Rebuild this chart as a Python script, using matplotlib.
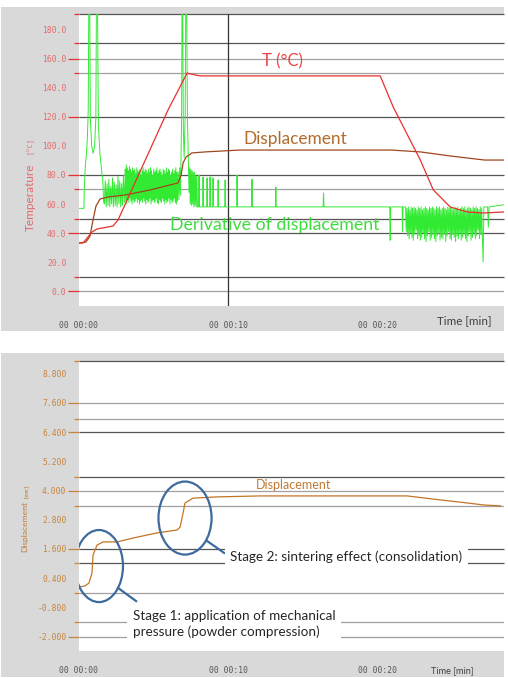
import numpy as np
import matplotlib.pyplot as plt
from matplotlib.patches import Ellipse, Rectangle
from matplotlib import rc
rc('font', family='Lato')

# ---- axes / labels
time_ticks = [0, 10, 20]
time_labels = ['00 00:00', '00 00:10', '00 00:20']
temp_ticks = [0, 20, 40, 60, 80, 100, 120, 140, 160, 180]
temp_labels = ['0.0', '20.0', '40.0', '60.0', '80.0', '100.0', '120.0', '140.0', '160.0', '180.0']
disp_ticks = [-2.0, -0.8, 0.4, 1.6, 2.8, 4.0, 5.2, 6.4, 7.6, 8.8]
disp_labels = ['-2.000', '-0.800', '0.400', '1.600', '2.800', '4.000', '5.200', '6.400', '7.600', '8.800']

# software grid lines (top panel, deg C)
temp_grid_dark = [171, 120, 80, 50, 40, 10]
temp_grid_light = [160, 150, 70, 0]
temp_mark_long = [160, 120, 80, 40, 0]
temp_mark_short = [191, 171, 150, 70, 50, 10]
# software grid lines (bottom panel, mm)
disp_grid_dark = [6.4, 4.56, 1.6, 1.02]
disp_grid_light = [7.6, 6.94, 4.0, 3.37, -0.21, -1.4, -2.0]
disp_mark_long = [7.6, 6.4, 4.0, 1.6, -2.0]
disp_mark_short = [9.32, 6.94, 4.56, 3.37, 1.02, -0.21, -1.4]

# ---- temperature T (deg C)
temp_t = [0.0, 0.27, 0.87, 1.21, 2.28, 2.62, 5.97, 7.25, 7.45, 8.12, 20.20, 21.07,
          22.89, 23.76, 24.90, 26.04, 27.10, 28.50]
temp_v = [33.1, 33.1, 40.7, 42.8, 44.8, 49.0, 124.8, 150.3, 149.7, 148.3, 148.3, 126.9,
          90.3, 69.7, 57.9, 54.5, 53.8, 54.5]

# ---- displacement drawn on the temperature scale (top panel)
disp_top_t = [0.0, 0.47, 0.74, 0.94, 1.14, 1.41, 1.95, 3.09, 4.77, 6.64, 6.85, 6.98, 7.18,
              7.58, 8.46, 10.8, 20.9, 22.9, 24.9, 27.2, 28.5]
disp_top_v = [33.1, 33.8, 37.9, 49.0, 58.6, 63.4, 64.8, 66.2, 69.7, 74.5, 80.0, 88.3, 92.4,
              95.2, 95.9, 97.2, 97.2, 95.9, 93.1, 90.3, 90.3]

# ---- derivative of displacement (top panel)
deriv_base = 58
deriv_start_t = [0.00, 0.33, 0.36, 0.42, 0.50, 0.56, 0.62, 0.66, 0.72, 0.76, 0.85, 0.95,
                 1.05, 1.13, 1.17, 1.24, 1.30, 1.40, 1.50, 1.60, 1.65]
deriv_start_v = [57, 57, 72, 85, 95, 105, 125, 200, 200, 120, 100, 95,
                 100, 120, 200, 200, 115, 95, 85, 75, 62]
deriv_burst_span = (1.70, 3.10)
deriv_burst = [60, 76, 58, 74, 59, 77, 58, 72, 60, 78, 58, 75,
               59, 73, 58, 79, 60, 76, 58, 74, 59, 80, 61, 78]
deriv_band_span = (3.10, 6.60)
deriv_band_hi = [84, 87, 85, 83, 86, 84, 82, 85, 83, 84, 81, 85, 83, 82, 84, 80, 83, 85, 82, 84,
                 83, 81, 84, 82, 85, 83, 80, 84, 82, 83, 85, 81, 83, 84, 82, 80, 84, 83, 81, 85,
                 82, 84, 83, 80, 82, 84, 81, 83, 85, 82]
deriv_band_lo = [62, 60, 63, 61, 64, 62, 60, 63, 61, 62, 64, 61, 63, 60, 62, 63, 61, 64, 62, 60,
                 63, 61, 62, 64, 60, 62, 63, 61, 62, 64, 61, 60, 63, 62, 61, 64, 62, 60, 63, 61,
                 62, 64, 60, 63, 61, 62, 64, 61, 60, 62]
deriv_spike_t = [6.65, 6.70, 6.75, 6.80, 6.84, 6.88, 6.91, 6.95, 7.00, 7.05, 7.12, 7.16, 7.22,
                 7.27, 7.32, 7.38, 7.42, 7.46, 7.50, 7.54, 7.58, 7.62, 7.66, 7.70, 7.74, 7.78,
                 7.82, 7.86, 7.90, 7.95]
deriv_spike_v = [82, 63, 85, 66, 90, 120, 200, 200, 110, 92, 120, 200, 200,
                 120, 95, 68, 85, 60, 84, 59, 83, 60, 82, 58, 82, 59,
                 80, 58, 79, 58]
deriv_peak_t = [8.05, 8.32, 8.59, 8.79, 8.99, 9.33, 9.80, 10.6, 11.6, 13.2, 16.4]
deriv_peak_v = [80, 78.6, 78, 78.6, 78, 76.6, 76.6, 80, 77, 71.7, 67.6]
deriv_dip_t = [20.87, 21.70]
deriv_dip_v = [35, 41]
deriv_band2_span = (21.90, 27.05)
deriv_band2_hi = [58, 57, 58, 56, 58, 57, 58, 57, 56, 58, 57, 58, 56, 57, 58, 57, 56, 58, 57, 58,
                  57, 56, 58, 57, 58, 56, 57, 58, 57, 56, 58, 57, 58, 57, 56, 58, 57, 58, 56, 57,
                  58, 57, 58, 56, 57, 58, 57, 56, 58, 57, 58, 57, 56, 58, 57]
deriv_band2_lo = [41, 38, 36, 40, 37, 35, 39, 42, 36, 38, 35, 37, 40, 36, 34, 38, 41, 35, 37, 39,
                  36, 34, 38, 40, 35, 37, 36, 39, 34, 38, 41, 36, 35, 39, 37, 34, 38, 36, 40, 35,
                  37, 39, 36, 34, 38, 41, 35, 37, 40, 36, 38, 42, 36, 39, 37]
deriv_end_t = [27.10, 27.15, 27.40, 27.45, 27.50, 28.50]
deriv_end_v = [20, 58, 58, 44, 58, 59.5]

# ---- displacement (bottom panel, mm)
disp_t = [0.0, 0.40, 0.67, 0.87, 0.94, 1.21, 1.61, 2.55, 3.62, 5.23, 6.58, 6.78, 6.98, 7.11,
          7.65, 9.26, 12.15, 22.01, 23.76, 26.04, 27.11, 28.26]
disp_v = [0.04, 0.08, 0.20, 0.61, 1.35, 1.76, 1.89, 1.89, 2.05, 2.26, 2.38, 2.50, 3.08, 3.49,
          3.69, 3.74, 3.78, 3.78, 3.65, 3.49, 3.41, 3.37]

# build derivative trace
dt, dv = list(deriv_start_t), list(deriv_start_v)
dt += list(np.linspace(*deriv_burst_span, len(deriv_burst))); dv += deriv_burst
band = [v for pair in zip(deriv_band_hi, deriv_band_lo) for v in pair]
dt += list(np.linspace(*deriv_band_span, len(band))); dv += band
dt += deriv_spike_t; dv += deriv_spike_v
for t, v in zip(deriv_peak_t + deriv_dip_t, deriv_peak_v + deriv_dip_v):
    dt += [t - 0.03, t, t + 0.03]; dv += [deriv_base, v, deriv_base]
band2 = [v for pair in zip(deriv_band2_hi, deriv_band2_lo) for v in pair]
dt += list(np.linspace(*deriv_band2_span, len(band2))); dv += band2
dt += deriv_end_t; dv += deriv_end_v

gray = '#d9d9d9'
red = '#e83030'
red_lbl = '#e46a6a'
green = '#33ea33'
brown = '#a0461e'
orange = '#c27526'
dark = '#555555'
light = '#a0a0a0'
mono = 'DejaVu Sans Mono'

fig = plt.figure(figsize=(5.08, 6.78), dpi=100)
fig.patches.append(Rectangle((0.002, 0.5118), 0.990, 0.478, transform=fig.transFigure,
                             facecolor=gray, edgecolor='none', zorder=-1))
fig.patches.append(Rectangle((0.002, 0.0015), 0.990, 0.478, transform=fig.transFigure,
                             facecolor=gray, edgecolor='none', zorder=-1))

ax1 = fig.add_axes([0.1555, 0.5487, 0.8366, 0.4307])
ax2 = fig.add_axes([0.1555, 0.0398, 0.8366, 0.4277])


def frame(ax, ylim, ticks, labels, lcolor, gdark, glight, mlong, mshort, mcolor):
    ax.set_xlim(0, 28.5)
    ax.set_ylim(*ylim)
    for s in ['left', 'right', 'bottom', 'top']:
        ax.spines[s].set_visible(False)
    ax.set_yticks(ticks)
    ax.set_yticklabels(labels, family=mono, fontsize=5.8, color=lcolor)
    ax.set_xticks(time_ticks)
    ax.set_xticklabels(time_labels, family=mono, fontsize=5.8, color='#555555')
    ax.tick_params(axis='y', length=0, pad=9)
    ax.tick_params(axis='x', length=0, pad=11)
    tr = ax.get_yaxis_transform()
    ax.hlines(gdark + [ylim[1]], 0, 1, transform=tr, colors=dark, lw=0.9, zorder=1, clip_on=False)
    ax.hlines(glight, 0, 1, transform=tr, colors=light, lw=0.9, zorder=1)
    ax.hlines(mlong, -0.026, 0, transform=tr, colors=mcolor, lw=0.9, clip_on=False)
    ax.hlines(mshort, -0.012, 0, transform=tr, colors=mcolor, lw=0.9, clip_on=False)


frame(ax1, (-10.3, 191), temp_ticks, temp_labels, red_lbl,
      temp_grid_dark, temp_grid_light, temp_mark_long, temp_mark_short, red)
ax1.axvline(10, color='#333333', lw=0.9, zorder=1)
ax1.plot(dt, dv, color=green, lw=0.7, zorder=2)
ax1.plot(disp_top_t, disp_top_v, color=brown, lw=0.9, zorder=3)
ax1.plot(temp_t, temp_v, color=red, lw=0.9, zorder=4)
ax1.text(12.3, 158, 'T (°C)', color='#ee4444', fontsize=12, va='center', ha='left')
ax1.text(11.0, 105, 'Displacement', color='#b36b2c', fontsize=12.4, va='center', ha='left')
ax1.text(6.1, 45.5, 'Derivative of displacement', color='#3ddd3d', fontsize=12.8,
         va='center', ha='left')

frame(ax2, (-2.59, 9.32), disp_ticks, disp_labels, '#c8843c',
      disp_grid_dark, disp_grid_light, disp_mark_long, disp_mark_short, '#c8843c')
ax2.plot(disp_t, disp_v, color=orange, lw=0.9, zorder=3)
ax2.text(11.85, 4.23, 'Displacement', color='#c07a35', fontsize=9, va='center', ha='left')

ell = '#3e6b9e'
ax2.add_patch(Ellipse((1.34, 0.90), 3.22, 2.96, fill=False, edgecolor=ell, lw=1.6, zorder=4))
ax2.add_patch(Ellipse((7.11, 2.87), 3.56, 3.0, fill=False, edgecolor=ell, lw=1.6, zorder=4))
ax2.plot([2.62, 3.83], [0.0, -0.54], color=ell, lw=1.6, zorder=4)
ax2.plot([8.59, 9.73], [1.93, 1.44], color=ell, lw=1.6, zorder=4)
box = dict(facecolor='white', edgecolor='none', pad=4)
ax2.text(10.13, 1.30, 'Stage 2: sintering effect (consolidation)', fontsize=9.7,
         color='#262626', va='center', ha='left', bbox=box, zorder=5)
ax2.text(3.62, -1.48, 'Stage 1: application of mechanical\npressure (powder compression)',
         fontsize=9.7, color='#262626', va='center', ha='left', linespacing=1.35,
         bbox=box, zorder=5)

# axis titles
fig.text(30 / 508, 1 - 197 / 678, 'Temperature', rotation=90, color=red_lbl,
         fontsize=8.5, ha='center', va='center')
fig.text(30 / 508, 1 - 146 / 678, '[°C]', rotation=90, color=red_lbl, family=mono,
         fontsize=5, ha='center', va='center')
fig.text(464 / 508, 1 - 321 / 678, 'Time [min]', color='#404040', fontsize=8.4,
         ha='center', va='center')
fig.text(25 / 508, 1 - 527 / 678, 'Displacement', rotation=90, color='#c07a35',
         fontsize=6.1, ha='center', va='center')
fig.text(25 / 508, 1 - 490 / 678, '[mm]', rotation=90, color='#c07a35', family=mono,
         fontsize=4.5, ha='center', va='center')
fig.text(452 / 508, 1 - 671 / 678, 'Time [min]', color='#404040', fontsize=6.6,
         ha='center', va='center')

plt.savefig('out.png', dpi=100)
plt.close()
